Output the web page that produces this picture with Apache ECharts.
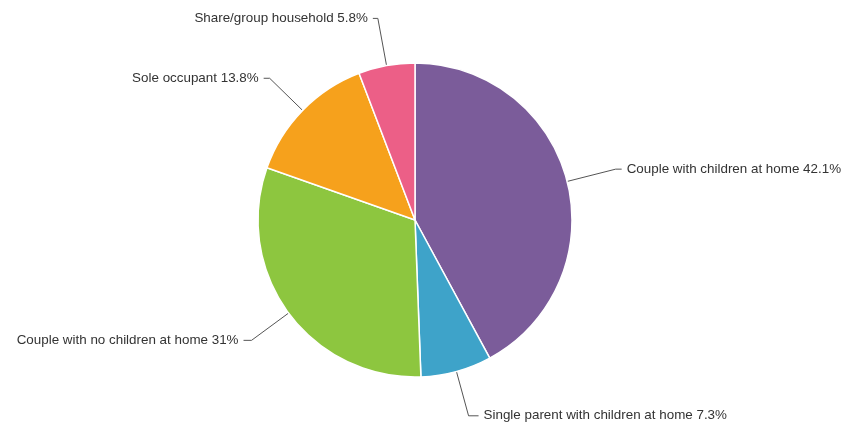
<!DOCTYPE html>
<html>
<head>
<meta charset="utf-8">
<script src="https://cdn.jsdelivr.net/npm/echarts@6/dist/echarts.min.js"></script>
<style>
  html, body { margin: 0; padding: 0; background: #fff; }
  #chart { width: 849px; height: 432px; }
</style>
</head>
<body>
<div id="chart"></div>
<script>
// Household composition shares (percent), clockwise from 12 o'clock
const categories = [
  'Couple with children at home',
  'Single parent with children at home',
  'Couple with no children at home',
  'Sole occupant',
  'Share/group household'
];
const values = [42.1, 7.3, 31, 13.8, 5.8];
const colors = ['#7b5c9a', '#3ea3c9', '#8dc63f', '#f6a11c', '#ec5f87'];
const lineLengths = [50, 46, 46, 46, 48];
const lineLengths2 = [6, 10, 8, 6, 5];

const data = categories.map((name, i) => ({
  name: name,
  value: values[i],
  itemStyle: { color: colors[i] },
  labelLine: { length: lineLengths[i], length2: lineLengths2[i] }
}));

const chart = echarts.init(document.getElementById('chart'), null, { renderer: 'canvas' });
chart.setOption({
  backgroundColor: '#ffffff',
  animation: false,
  series: [{
    type: 'pie',
    center: [415, 220],
    radius: 157,
    startAngle: 90,
    clockwise: true,
    avoidLabelOverlap: false,
    data: data,
    itemStyle: { borderColor: '#ffffff', borderWidth: 1.5 },
    label: {
      show: true,
      formatter: '{b} {c}%',
      fontFamily: 'Liberation Sans, Arial, sans-serif',
      fontSize: 13.4,
      color: '#333333',
      distanceToLabelLine: 5
    },
    labelLine: {
      show: true,
      lineStyle: { color: '#555555', width: 1 }
    },
    emphasis: { disabled: true }
  }]
});
</script>
</body>
</html>
